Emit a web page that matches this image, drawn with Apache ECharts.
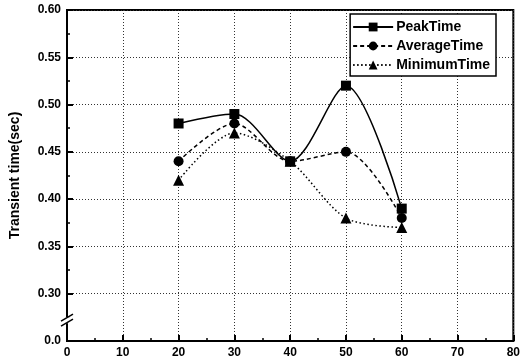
<!DOCTYPE html>
<html>
<head>
<meta charset="utf-8">
<script src="https://cdn.jsdelivr.net/npm/echarts@6/dist/echarts.min.js"></script>
<style>
  html, body { margin: 0; padding: 0; background: #fff; }
  #ec { width: 523px; height: 364px; }
</style>
</head>
<body>
<div id="ec"></div>
<script>
var xValues = [20, 30, 40, 50, 60];
var peakTime = [0.48, 0.49, 0.44, 0.52, 0.39];
var averageTime = [0.44, 0.48, 0.44, 0.45, 0.38];
var minimumTime = [0.42, 0.47, 0.44, 0.38, 0.37];

// the axis is broken: the lowest tick stands for 0.0
var yTicks = [0.25, 0.30, 0.35, 0.40, 0.45, 0.50, 0.55, 0.60];
var yTickLabels = ["0.0", "0.30", "0.35", "0.40", "0.45", "0.50", "0.55", "0.60"];
var xTickLabels = ["0", "10", "20", "30", "40", "50", "60", "70", "80"];

function pairs(ys) {
  return xValues.map(function (x, i) { return [x, ys[i]]; });
}

var font = "Liberation Sans";
var myChart = echarts.init(document.getElementById("ec"));
myChart.setOption({
  animation: false,
  grid: {
    left: 62, right: 8, top: 10, bottom: 23,
    show: true, borderColor: "#000", borderWidth: 2
  },
  legend: {
    right: 27, top: 14,
    orient: "vertical",
    itemWidth: 40, itemHeight: 11, itemGap: 5,
    padding: [6, 6, 4, 2],
    borderColor: "#000", borderWidth: 1.5,
    backgroundColor: "#fff",
    textStyle: { fontFamily: font, fontSize: 14, fontWeight: "bold", color: "#000", padding: [0, 0, 0, -2] },
    data: ["PeakTime", "AverageTime", "MinimumTime"]
  },
  xAxis: {
    type: "value",
    min: 0, max: 80, interval: 10,
    axisLine: { lineStyle: { color: "#000", width: 2 } },
    axisTick: { inside: true, length: 6, lineStyle: { color: "#000", width: 2 } },
    minorTick: { show: true, splitNumber: 2, length: 3, lineStyle: { color: "#000", width: 1.5 } },
    axisLabel: {
      margin: 6, color: "#000", fontFamily: font, fontSize: 12, fontWeight: "bold",
      formatter: function (v) { return xTickLabels[Math.round(v / 10)]; }
    },
    splitLine: { show: true, lineStyle: { color: "#333", type: [1, 2], width: 1 } }
  },
  yAxis: {
    type: "value",
    min: 0.25, max: 0.6, interval: 0.05,
    name: "Transient time(sec)",
    nameLocation: "middle",
    nameGap: 45,
    nameTextStyle: { fontFamily: font, fontSize: 14, fontWeight: "bold", color: "#000" },
    axisLine: { lineStyle: { color: "#000", width: 2 } },
    axisTick: { inside: true, length: 6, lineStyle: { color: "#000", width: 2 } },
    minorTick: { show: true, splitNumber: 2, length: 3, lineStyle: { color: "#000", width: 1.5 } },
    axisLabel: {
      margin: 6, color: "#000", fontFamily: font, fontSize: 12, fontWeight: "bold",
      formatter: function (v) {
        var i = Math.round((v - yTicks[0]) / 0.05);
        return yTickLabels[i];
      }
    },
    splitLine: { show: true, lineStyle: { color: "#333", type: [1, 2], width: 1 } }
  },
  series: [
    {
      name: "PeakTime", type: "line", smooth: 0.3,
      data: pairs(peakTime),
      symbol: "rect", symbolSize: 10,
      itemStyle: { color: "#000" },
      lineStyle: { color: "#000", width: 1.5, type: "solid" },
      z: 5
    },
    {
      name: "AverageTime", type: "line", smooth: 0.3,
      data: pairs(averageTime),
      symbol: "circle", symbolSize: 10,
      itemStyle: { color: "#000" },
      lineStyle: { color: "#000", width: 1.5, type: [4, 3] },
      z: 4
    },
    {
      name: "MinimumTime", type: "line", smooth: 0.3,
      data: pairs(minimumTime),
      symbol: "triangle", symbolSize: 11,
      itemStyle: { color: "#000" },
      lineStyle: { color: "#000", width: 1.5, type: [1.5, 2.5] },
      z: 3
    }
  ]
});

// axis break mark "//" on the y axis
var b = myChart.convertToPixel({ gridIndex: 0 }, [0, 0.272]);
var bx = b[0], by = b[1];
myChart.setOption({
  graphic: [
    { type: "rect", shape: { x: bx - 3, y: by - 3, width: 6, height: 6 }, style: { fill: "#fff" }, z: 100 },
    { type: "line", shape: { x1: bx - 6, y1: by + 1, x2: bx + 6, y2: by - 6 }, style: { stroke: "#000", lineWidth: 1.5 }, z: 101 },
    { type: "line", shape: { x1: bx - 6, y1: by + 6, x2: bx + 6, y2: by - 1 }, style: { stroke: "#000", lineWidth: 1.5 }, z: 101 }
  ]
});
</script>
</body>
</html>
